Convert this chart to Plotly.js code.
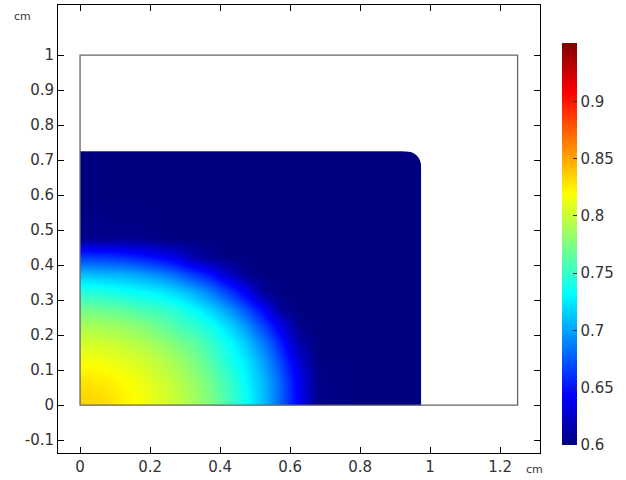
<!DOCTYPE html>
<html>
<head>
<meta charset="utf-8">
<script src="https://cdn.plot.ly/plotly-3.0.1.min.js"></script>
<style>html,body{margin:0;padding:0;background:#fff}#plot{width:626px;height:480px}</style>
</head>
<body>
<div id="plot"></div>
<script>
// Cell edges of the solution field (cm)
var xEdges = [0, 0.05, 0.1, 0.15, 0.2, 0.25, 0.3, 0.35, 0.4, 0.45, 0.5, 0.55, 0.6, 0.65, 0.7, 0.975];
var yEdges = [0, 0.05, 0.1, 0.15, 0.2, 0.25, 0.3, 0.35, 0.4, 0.45, 0.5, 0.725];
// Field values (rows bottom to top)
var row0  = [0.833,0.830,0.823,0.816,0.808,0.799,0.787,0.773,0.754,0.733,0.708,0.676,0.640,0.605,0.6];
var row1  = [0.827,0.824,0.819,0.812,0.804,0.795,0.783,0.768,0.750,0.729,0.706,0.674,0.638,0.604,0.6];
var row2  = [0.817,0.814,0.810,0.805,0.797,0.787,0.775,0.759,0.741,0.724,0.698,0.665,0.629,0.602,0.6];
var row3  = [0.805,0.803,0.799,0.793,0.785,0.775,0.765,0.750,0.734,0.713,0.686,0.652,0.615,0.6,0.6];
var row4  = [0.790,0.788,0.784,0.778,0.769,0.758,0.749,0.737,0.719,0.695,0.666,0.634,0.604,0.6,0.6];
var row5  = [0.770,0.767,0.763,0.756,0.751,0.744,0.731,0.715,0.695,0.669,0.641,0.607,0.6,0.6,0.6];
var row6  = [0.743,0.740,0.735,0.731,0.726,0.716,0.703,0.685,0.662,0.638,0.607,0.6,0.6,0.6,0.6];
var row7  = [0.709,0.706,0.704,0.698,0.690,0.678,0.662,0.646,0.623,0.605,0.6,0.6,0.6,0.6,0.6];
var row8  = [0.662,0.661,0.657,0.651,0.642,0.632,0.615,0.604,0.6,0.6,0.6,0.6,0.6,0.6,0.6];
var row9  = [0.607,0.606,0.606,0.605,0.602,0.6,0.6,0.6,0.6,0.6,0.6,0.6,0.6,0.6,0.6];
var row10 = [0.6,0.6,0.6,0.6,0.6,0.6,0.6,0.6,0.6,0.6,0.6,0.6,0.6,0.6,0.6];
var cornerRadius = 0.05;
// Geometry outline (cm)
var geomX = [0, 1.25];
var geomY = [0, 1];
// Colour range and ticks
var colorRange = [0.6, 0.951];
var cbTicks = [0.6, 0.65, 0.7, 0.75, 0.8, 0.85, 0.9];
var cbTickText = ["0.6", "0.65", "0.7", "0.75", "0.8", "0.85", "0.9"];
var xTicks = [0, 0.2, 0.4, 0.6, 0.8, 1, 1.2];
var xTickText = ["0", "0.2", "0.4", "0.6", "0.8", "1", "1.2"];
var yTicks = [-0.1, 0, 0.1, 0.2, 0.3, 0.4, 0.5, 0.6, 0.7, 0.8, 0.9, 1];
var yTickText = ["-0.1", "0", "0.1", "0.2", "0.3", "0.4", "0.5", "0.6", "0.7", "0.8", "0.9", "1"];

var z = [row0,row1,row2,row3,row4,row5,row6,row7,row8,row9,row10];

var jet = [[0,'rgb(0,0,128)'],[0.125,'rgb(0,0,255)'],[0.375,'rgb(0,255,255)'],
           [0.625,'rgb(255,255,0)'],[0.875,'rgb(255,0,0)'],[1,'rgb(128,0,0)']];

var font = {family: 'DejaVu Sans, sans-serif', size: 15, color: '#333'};

var trace = {
  type: 'heatmap', x: xEdges, y: yEdges, z: z,
  zsmooth: 'best', colorscale: jet, zmin: colorRange[0], zmax: colorRange[1],
  hoverinfo: 'skip',
  colorbar: {
    x: (562 - 58) / 482, xanchor: 'left', xref: 'paper',
    y: (453 - 244) / 448, yanchor: 'middle',
    len: 402, lenmode: 'pixels', thickness: 15, thicknessmode: 'pixels',
    outlinewidth: 0, ticks: 'inside', ticklen: 4, tickcolor: '#333', tickwidth: 1,
    tickvals: cbTicks, ticktext: cbTickText,
    tickfont: font, xpad: 0, ypad: 0
  }
};

var xr = xEdges[xEdges.length - 1], yr = yEdges[yEdges.length - 1], r = cornerRadius, e = 0.01;
var maskPath = 'M ' + (xr + e) + ',' + (yr - r) + ' L ' + xr + ',' + (yr - r) +
  ' Q ' + xr + ',' + yr + ' ' + (xr - r) + ',' + yr +
  ' L ' + (xr - r) + ',' + (yr + e) + ' L ' + (xr + e) + ',' + (yr + e) + ' Z';

var axisCommon = {
  showgrid: false, zeroline: false, showline: true, linecolor: '#000', linewidth: 1,
  mirror: 'ticks', ticks: 'inside', ticklen: 6, tickcolor: '#000', tickwidth: 1,
  tickfont: font
};

var layout = {
  width: 626, height: 480,
  margin: {l: 58, r: 86, t: 5, b: 27},
  paper_bgcolor: '#fff', plot_bgcolor: '#fff',
  showlegend: false,
  xaxis: Object.assign({}, axisCommon, {range: [-0.063, 1.314], tickvals: xTicks, ticktext: xTickText}),
  yaxis: Object.assign({}, axisCommon, {range: [-0.137, 1.143], tickvals: yTicks, ticktext: yTickText}),
  shapes: [
    {type: 'path', xref: 'x', yref: 'y', path: maskPath, fillcolor: '#fff', line: {width: 0}, layer: 'above'},
    {type: 'rect', xref: 'x', yref: 'y', x0: geomX[0], x1: geomX[1], y0: geomY[0], y1: geomY[1],
     line: {color: '#666', width: 1.3}, fillcolor: 'rgba(0,0,0,0)', layer: 'above'}
  ],
  annotations: [
    {text: 'cm', xref: 'paper', yref: 'paper', x: (12 - 58) / 482, y: (453 - 8) / 448,
     showarrow: false, font: {family: 'DejaVu Sans, sans-serif', size: 11, color: '#333'}},
    {text: 'cm', xref: 'paper', yref: 'paper', x: (534 - 58) / 482, y: (453 - 469) / 448,
     xanchor: 'center', yanchor: 'middle',
     showarrow: false, font: {family: 'DejaVu Sans, sans-serif', size: 11, color: '#333'}}
  ]
};

Plotly.newPlot('plot', [trace], layout, {staticPlot: true, displayModeBar: false});
</script>
</body>
</html>
